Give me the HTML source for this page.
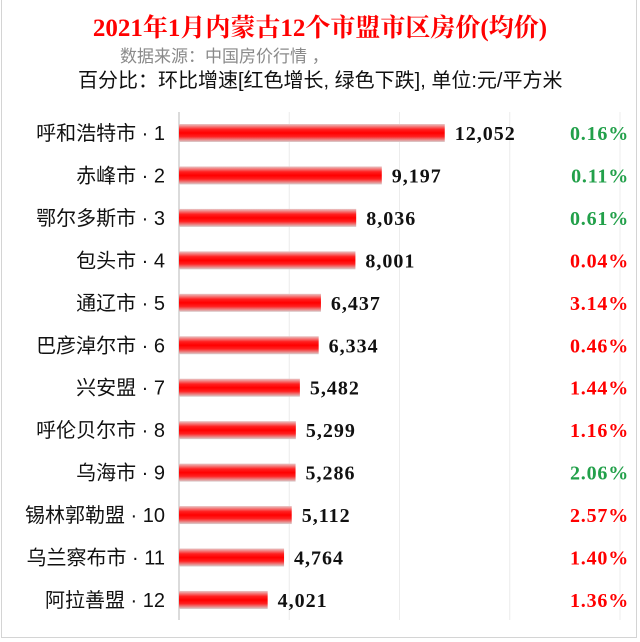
<!DOCTYPE html>
<html><head><meta charset="utf-8"><style>
body{margin:0;background:#fff;}
#wrap{position:relative;width:640px;height:642px;overflow:hidden;background:#fff;}
#frame{position:absolute;left:1px;top:-2px;width:636px;height:640px;border:1px solid #d4d4d4;box-sizing:border-box;}
.t{position:absolute;white-space:nowrap;}
</style></head><body>
<div id="wrap">
<div id="frame"></div>
<div class="t" style="left:0;width:640px;text-align:center;top:8px;font:bold 25px 'Liberation Serif','Noto Serif CJK SC',serif;color:#f00;">2021年1月内蒙古12个市盟市区房价(均价)</div>
<div class="t" style="left:120px;top:42px;font:17px 'Liberation Sans','Noto Sans CJK SC',sans-serif;color:#8a8a8a;">数据来源：中国房价行情 ，</div>
<div class="t" style="left:78px;top:64px;font:20px 'Liberation Sans','Noto Sans CJK SC',sans-serif;color:#111;">百分比：环比增速[红色增长, 绿色下跌], 单位:元/平方米</div>
<svg id="plot" width="640" height="642" style="position:absolute;left:0;top:0">
<defs><linearGradient id="bg" x1="0" y1="0" x2="0" y2="1">
<stop offset="0" stop-color="#e8c8c8"/><stop offset="0.3" stop-color="#ff2020"/><stop offset="0.5" stop-color="#ff0000"/><stop offset="0.7" stop-color="#ff2020"/><stop offset="1" stop-color="#d8d0d0"/></linearGradient></defs>
</svg>
</div>
<script>
const cities=["呼和浩特市 · 1","赤峰市 · 2","鄂尔多斯市 · 3","包头市 · 4","通辽市 · 5","巴彦淖尔市 · 6","兴安盟 · 7","呼伦贝尔市 · 8","乌海市 · 9","锡林郭勒盟 · 10","乌兰察布市 · 11","阿拉善盟 · 12"];
const prices=[12052,9197,8036,8001,6437,6334,5482,5299,5286,5112,4764,4021];
const changes=["0.16%","0.11%","0.61%","0.04%","3.14%","0.46%","1.44%","1.16%","2.06%","2.57%","1.40%","1.36%"];
const changeUp=[false,false,false,true,true,true,true,true,false,true,true,true];
const gridTicks=[0,5000,10000,15000,20000];
const svg=document.getElementById('plot');
const NS='http://www.w3.org/2000/svg';
const x0=179,xMax=20000,xW=441;
const xs=v=>x0+v/xMax*xW;
const ys=i=>133+i*42.45;
function mk(t,a){const e=document.createElementNS(NS,t);for(const k in a)e.setAttribute(k,a[k]);svg.appendChild(e);return e;}
gridTicks.forEach((g,i)=>{const l=mk('line',{x1:xs(g),x2:xs(g),y1:112,y2:620,stroke:i==0?'#cfcfcf':'#ececec','stroke-width':i==0?1.5:1});

});
cities.forEach((c,i)=>{const y=ys(i);
const t=mk('text',{x:165,y:y+7,'text-anchor':'end','font-size':20,'font-family':"'Liberation Sans','Noto Sans CJK SC',sans-serif",fill:'#111'});t.textContent=c;


const r=mk('rect',{x:x0,y:y-9,width:xs(prices[i])-x0,height:18,fill:'url(#bg)'});


const v=mk('text',{x:xs(prices[i])+10,y:y+7,'font-size':20,'letter-spacing':1,'font-weight':'bold','font-family':"'Liberation Serif',serif",fill:'#111'});v.textContent=prices[i].toLocaleString('en-US');


const p=mk('text',{x:629,y:y+7,'text-anchor':'end','font-size':20,'letter-spacing':0.8,'font-weight':'bold','font-family':"'Liberation Serif',serif",fill:changeUp[i]?'#ff0000':'#22a04a'});p.textContent=changes[i];

});
</script>
</body></html>
